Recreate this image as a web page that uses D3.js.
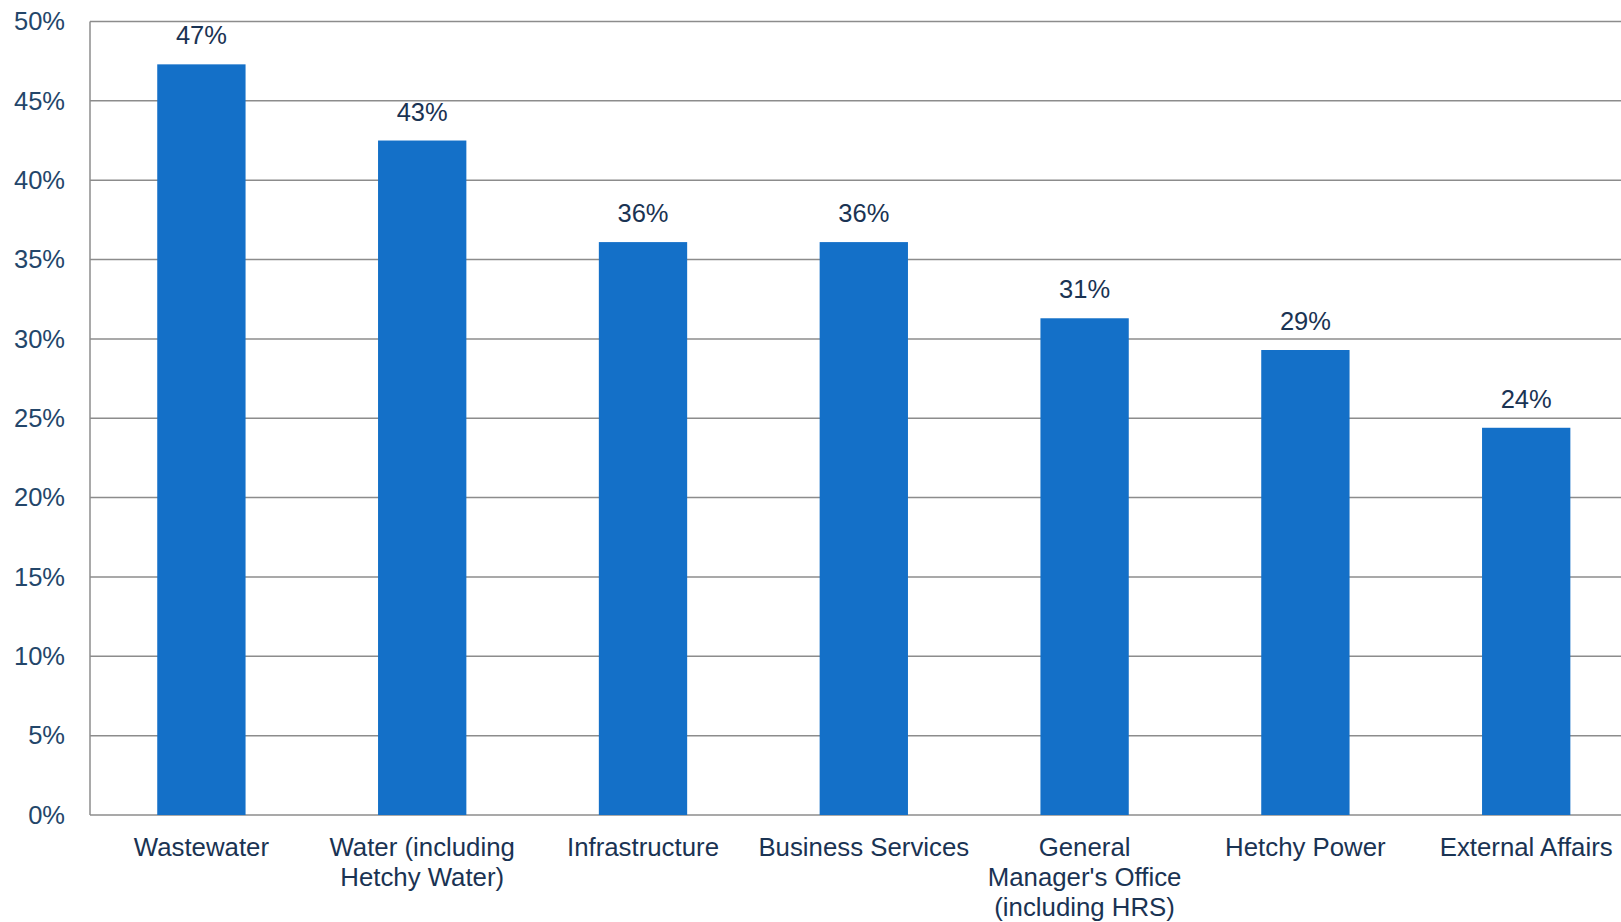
<!DOCTYPE html>
<html>
<head>
<meta charset="utf-8">
<script src="https://cdn.jsdelivr.net/npm/d3@7"></script>
<style>
  body { margin: 0; background: #fff; }
  text { font-family: "Liberation Sans", Arial, Helvetica, sans-serif; }
</style>
</head>
<body>
<div id="chart"></div>
<script>
// department names (split into lines as in the original)
var categories = [
  ["Wastewater"],
  ["Water (including", "Hetchy Water)"],
  ["Infrastructure"],
  ["Business Services"],
  ["General", "Manager's Office", "(including HRS)"],
  ["Hetchy Power"],
  ["External Affairs"]
];
var values = [47.3, 42.5, 36.1, 36.1, 31.3, 29.3, 24.4];
var valueLabels = ["47%", "43%", "36%", "36%", "31%", "29%", "24%"];
var yTicks = [0, 5, 10, 15, 20, 25, 30, 35, 40, 45, 50];

var svg_width = 1621;
var svg_height = 922;

var margin = {top: 21.5, left: 90, bottom: 107};
var plot_right = 90 + 7 * 220.8; // plot runs past the right edge like the scan

var color_bar = "#1470c8";
var color_text = "#1a3353";
var color_grid = "#8c8c8c";

var svg = d3.select("#chart")
  .append("svg")
    .attr("width", svg_width)
    .attr("height", svg_height);

var x = d3.scaleBand()
  .domain(d3.range(categories.length))
  .range([margin.left + 1, plot_right + 1])
  .paddingInner(0.6)
  .paddingOuter(0.3);

var y = d3.scaleLinear()
  .domain([0, 50])
  .range([svg_height - margin.bottom, margin.top]);

// gridlines
svg.append("g")
  .selectAll("line")
  .data(yTicks)
  .enter().append("line")
    .attr("x1", margin.left)
    .attr("x2", plot_right)
    .attr("y1", function(d) { return y(d); })
    .attr("y2", function(d) { return y(d); })
    .attr("stroke", color_grid)
    .attr("stroke-width", 1.5);

// left axis line
svg.append("line")
  .attr("x1", margin.left).attr("x2", margin.left)
  .attr("y1", y(50)).attr("y2", y(0))
  .attr("stroke", color_grid)
  .attr("stroke-width", 1.5);

// y tick labels
var yAxis = svg.append("g")
  .attr("transform", "translate(" + margin.left + ",0)")
  .call(d3.axisLeft(y).tickValues(yTicks).tickSize(0).tickPadding(25)
    .tickFormat(function(d) { return d + "%"; }));
yAxis.select(".domain").remove();
yAxis.selectAll("text")
  .attr("font-size", 25.5)
  .attr("fill", "#23466a")
  .attr("font-family", "Liberation Sans, Arial, sans-serif");

// bars
svg.append("g")
  .selectAll("rect")
  .data(values)
  .enter().append("rect")
    .attr("x", function(d, i) { return x(i); })
    .attr("y", function(d) { return y(d); })
    .attr("width", x.bandwidth())
    .attr("height", function(d) { return y(0) - y(d); })
    .attr("fill", color_bar);

// value labels
svg.append("g")
  .selectAll("text")
  .data(values)
  .enter().append("text")
    .attr("x", function(d, i) { return x(i) + x.bandwidth() / 2; })
    .attr("y", function(d) { return y(d) - 20; })
    .attr("text-anchor", "middle")
    .attr("font-size", 25.5)
    .attr("fill", color_text)
    .text(function(d, i) { return valueLabels[i]; });

// category labels
var cat = svg.append("g")
  .selectAll("text")
  .data(categories)
  .enter().append("text")
    .attr("x", function(d, i) { return x(i) + x.bandwidth() / 2; })
    .attr("y", y(0) + 41)
    .attr("text-anchor", "middle")
    .attr("font-size", 25.8)
    .attr("fill", color_text);

cat.selectAll("tspan")
  .data(function(d) { return d; })
  .enter().append("tspan")
    .attr("x", function() { return d3.select(this.parentNode).attr("x"); })
    .attr("dy", function(d, i) { return i == 0 ? 0 : 30; })
    .text(function(d) { return d; });
</script>
</body>
</html>
